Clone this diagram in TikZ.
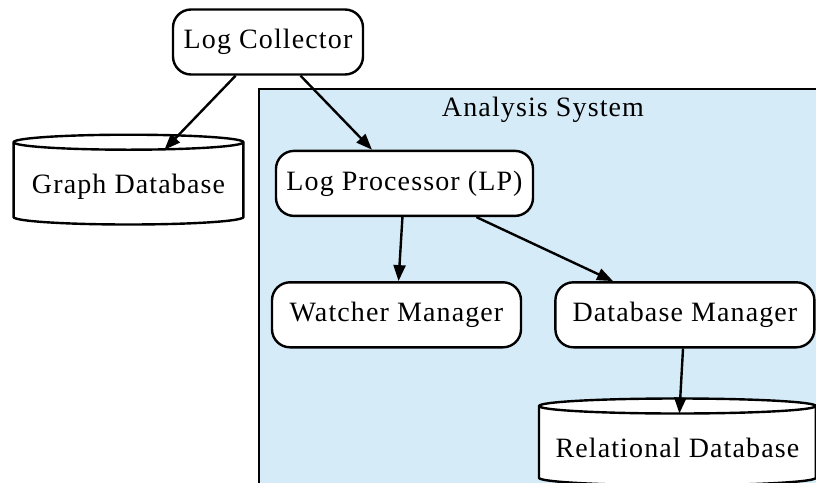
\documentclass[tikz,border=0pt]{standalone}
\usepackage{fontspec}
\setmainfont{Liberation Serif}[LetterSpace=4]
\usepackage{tikz}
\usetikzlibrary{positioning,arrows.meta,calc,backgrounds}

\definecolor{clusterblue}{RGB}{214,235,248}

% database drawn as a cylinder round a plain node
\newcommand{\dbcylinder}[1]{%
  \filldraw[line width=1.2pt, fill=white]
    let \p1=(#1.north west), \p2=(#1.south east) in
    (\x1,{\y1+3.75pt}) -- (\x1,{\y2+3.75pt})
    arc[start angle=180, end angle=360, x radius={(\x2-\x1)/2}, y radius=3.75pt]
    -- (\x2,{\y1+3.75pt})
    arc[start angle=0, end angle=180, x radius={(\x2-\x1)/2}, y radius=3.75pt] -- cycle;
  \draw[line width=1.2pt]
    let \p1=(#1.north west), \p2=(#1.south east) in
    (\x1,{\y1+3.75pt})
    arc[start angle=180, end angle=360, x radius={(\x2-\x1)/2}, y radius=3.75pt];
}

\begin{document}
\begin{tikzpicture}[
    font=\fontsize{14}{16}\selectfont,
    proc/.style={rectangle, draw, line width=1.2pt, fill=white, rounded corners=9pt, minimum height=32.5pt, inner sep=0pt},
    db/.style={rectangle, inner sep=0pt, minimum height=35.5pt},
    arrow/.style={-{Triangle[length=8pt,width=6pt]}, line width=1.2pt}
]
\useasboundingbox (0,0) rectangle (408pt,-241.5pt);

% -------- Top --------
\node[proc, minimum width=95pt] (collector) at (134pt,-21pt) {Log Collector};

\node[db, minimum width=114.5pt, minimum height=37pt, below=37pt of collector, xshift=-69.75pt] (graphdb) {\raisebox{1.5pt}{Graph Database}};

% -------- Analysis System --------
\node[proc, minimum width=128.5pt, below=37pt of collector, xshift=68.25pt] (lp) {Log Processor (LP)};

\node[proc, minimum width=124.5pt, below=32pt of lp, xshift=-4pt] (watcher) {Watcher Manager};

\node[proc, minimum width=129.5pt, right=16pt of watcher] (dbm) {Database Manager};

\node[db, minimum width=138pt, below=32.5pt of dbm, xshift=-3.75pt] (reldb) {\raisebox{1.5pt}{Relational Database}};

\node (analysis) at (271.5pt,-55pt) {Analysis System};

\begin{scope}[on background layer]
\fill[clusterblue] (129.5pt,-44.5pt) rectangle (412pt,-245pt);
\draw[line width=1.2pt] (412pt,-44.5pt) -- (129.5pt,-44.5pt) -- (129.5pt,-245pt);
\dbcylinder{graphdb}
\dbcylinder{reldb}
\end{scope}

% -------- Arrows --------
\draw[arrow] (collector) -- (graphdb);
\draw[arrow] (collector) -- (lp);
\draw[arrow] (lp) -- (watcher);
\draw[arrow] (lp) -- (dbm);
\draw[arrow] (dbm) -- (reldb);

\end{tikzpicture}
\end{document}
